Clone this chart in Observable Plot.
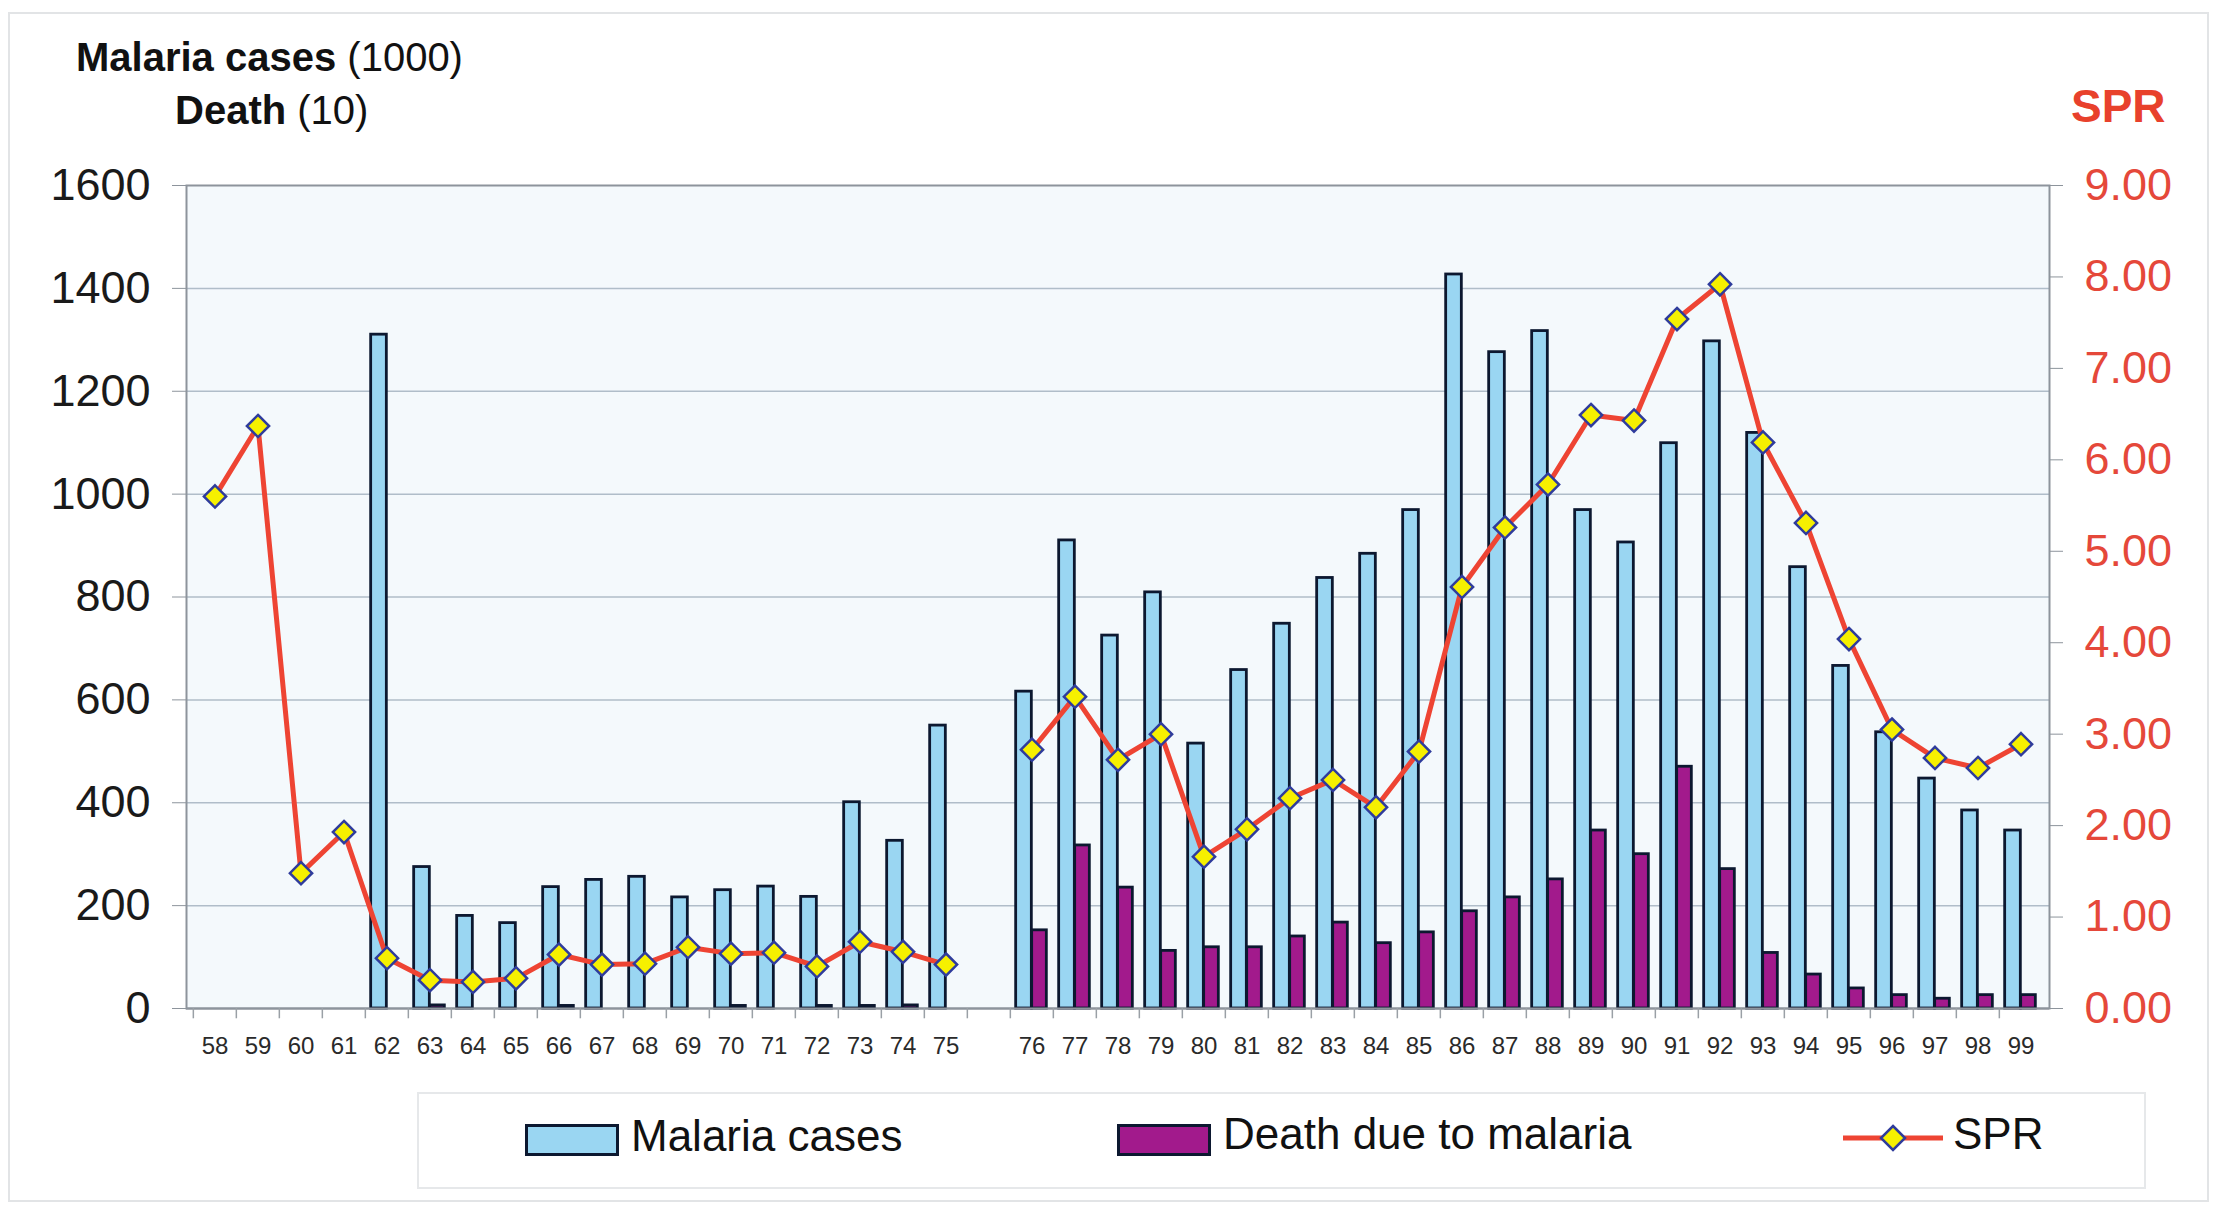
<!DOCTYPE html>
<html>
<head>
<meta charset="utf-8">
<script src="https://cdn.jsdelivr.net/npm/d3@7"></script>
<script src="https://cdn.jsdelivr.net/npm/@observablehq/plot@0.6"></script>
<style>
  body { margin: 0; background: #fff; }
  #wrap { position: relative; width: 2215px; height: 1205px; font-family: "Liberation Sans", Arial, sans-serif; overflow: hidden; }
  .abs { position: absolute; white-space: nowrap; }
</style>
</head>
<body>
<div id="wrap">
  <div class="abs" style="left:8px;top:12px;width:2197px;height:1186px;border:2px solid #e2e4e6;"></div>
  <div class="abs" style="left:76px;top:35px;font-size:40px;color:#111;"><b>Malaria cases</b> (1000)</div>
  <div class="abs" style="left:175px;top:88px;font-size:40px;color:#111;"><b>Death</b> (10)</div>
  <div class="abs" style="left:2071px;top:79px;font-size:46px;color:#e8412c;font-weight:bold;">SPR</div>
  <div id="chart" class="abs" style="left:0;top:140px;"></div>
  <div class="abs" style="left:417px;top:1092px;width:1725px;height:93px;border:2px solid #e6e8ea;"></div>
  <div id="legend"></div>
</div>
<script>
const years = ["58","59","60","61","62","63","64","65","66","67","68","69","70","71","72","73","74","75",
               "76","77","78","79","80","81","82","83","84","85","86","87","88","89","90","91","92","93","94","95","96","97","98","99"];
const cases = [null,null,null,null,1310,275,180,166,236,250,256,216,230,237,217,401,326,550,
               616,910,725,809,515,658,748,837,884,969,1427,1276,1317,969,906,1099,1297,1119,858,666,537,447,385,346];
const deaths = [null,null,null,null,null,6,null,null,5,null,null,null,5,null,5,5,6,null,
                152,317,235,112,119,119,140,167,127,148,189,216,251,346,300,470,271,108,66,39,26,19,26,26];
const spr = [5.60,6.37,1.48,1.93,0.55,0.31,0.29,0.33,0.59,0.48,0.49,0.67,0.60,0.61,0.46,0.73,0.62,0.48,
             2.83,3.41,2.72,3.00,1.66,1.96,2.30,2.50,2.20,2.81,4.61,5.26,5.73,6.49,6.43,7.54,7.92,6.19,5.31,4.04,3.05,2.74,2.63,2.89];
const leftTicks = [0,200,400,600,800,1000,1200,1400,1600];
const rightTicks = [0,1,2,3,4,5,6,7,8,9];
const gapLabel = " ";
const seriesNames = ["Malaria cases","Death due to malaria","SPR"];

const rows = years.map((y, i) => ({year: y, cases: cases[i], deaths: deaths[i], spr: spr[i]}));
rows.splice(18, 0, {year: gapLabel, cases: null, deaths: null, spr: null});
const domain = rows.map(d => d.year);

const W = 2215, H = 920, mL = 186, mR = 166, mT = 45, mB = 52;
const step = (W - mL - mR) / domain.length;
const half = step / 2;
const k = 1600 / 9;

const C_CASES = "#9ad6f2", C_DEATH = "#a21a8c", C_STROKE = "#0c1830", C_RED = "#ee4433";

const chart = Plot.plot({
  width: W, height: H,
  marginLeft: mL, marginRight: mR, marginTop: mT, marginBottom: mB,
  style: {fontFamily: "Liberation Sans, Arial, sans-serif", background: "transparent", overflow: "visible"},
  x: {type: "band", domain, padding: 0, label: null},
  y: {domain: [0, 1600], label: null},
  marks: [
    Plot.frame({fill: "#f4f9fc", stroke: null}),
    Plot.gridY(leftTicks.filter(t => t > 0 && t < 1600), {stroke: "#b0bdc9", strokeOpacity: 1, strokeWidth: 1.5}),
    Plot.frame({stroke: "#8d949c", strokeWidth: 2}),
    Plot.barY(rows, {x: "year", y: "cases", fill: C_CASES, stroke: C_STROKE, strokeWidth: 2.8,
      insetLeft: half - 16, insetRight: half}),
    Plot.barY(rows, {x: "year", y: "deaths", fill: C_DEATH, stroke: C_STROKE, strokeWidth: 2.8,
      insetLeft: half, insetRight: half - 15}),
    Plot.line(rows, {x: "year", y: d => d.spr == null ? NaN : d.spr * k, stroke: C_RED, strokeWidth: 5, curve: "linear"}),
    Plot.dot(rows.filter(d => d.spr != null), {x: "year", y: d => d.spr * k, symbol: "diamond2", r: 10,
      fill: "#f6f000", stroke: "#2f3c9c", strokeWidth: 2.5}),
    Plot.ruleY([0], {stroke: "#8d949c", strokeWidth: 2}),
    Plot.ruleX(domain, {x: d => d, dx: -half, y1: 0, y2: -20, stroke: "#9aa0a6", strokeWidth: 1.5}),
    Plot.axisY(leftTicks, {anchor: "left", label: null, tickSize: 14, tickPadding: 22, fontSize: 45, fill: "#1a1a1a", stroke: "#8d949c", tickFormat: d => String(d)}),
    Plot.axisY(rightTicks.map(t => t * k), {anchor: "right", label: null, tickSize: 13, tickPadding: 22, fontSize: 45, fill: "#e5483a", stroke: "#8d949c",
      tickFormat: d => (d / k).toFixed(2)}),
    Plot.axisX({label: null, tickSize: 0, tickPadding: 28, fontSize: 24, fill: "#2a2a2a"})
  ]
});
document.getElementById("chart").appendChild(chart);

const legend = document.getElementById("legend");
legend.innerHTML = `
  <div class="abs" style="left:525px;top:1124px;width:88px;height:26px;background:${C_CASES};border:3px solid ${C_STROKE};"></div>
  <div class="abs" style="left:631px;top:1111px;font-size:44px;color:#111;">${seriesNames[0]}</div>
  <div class="abs" style="left:1117px;top:1124px;width:88px;height:26px;background:${C_DEATH};border:3px solid ${C_STROKE};"></div>
  <div class="abs" style="left:1223px;top:1109px;font-size:44px;color:#111;">${seriesNames[1]}</div>
  <svg class="abs" style="left:1843px;top:1118px;" width="100" height="40">
    <line x1="0" y1="20" x2="100" y2="20" stroke="${C_RED}" stroke-width="5"/>
    <path d="M50,8 L62,20 L50,32 L38,20 Z" fill="#f6f000" stroke="#2f3c9c" stroke-width="2.5"/>
  </svg>
  <div class="abs" style="left:1953px;top:1109px;font-size:44px;color:#111;">${seriesNames[2]}</div>
`;
</script>
</body>
</html>
